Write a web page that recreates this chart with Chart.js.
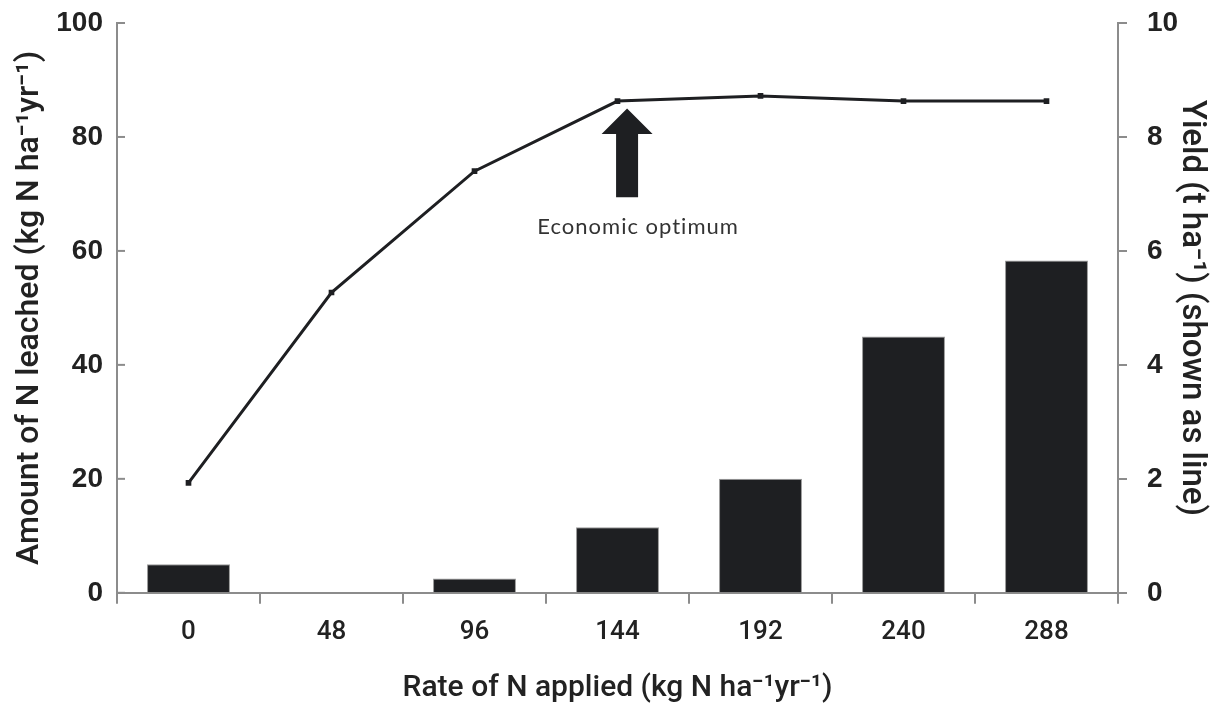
<!DOCTYPE html>
<html>
<head>
<meta charset="utf-8">
<script src="https://cdn.jsdelivr.net/npm/chart.js"></script>
<style>
  html, body { margin: 0; padding: 0; background: #fff; }
  #wrap { width: 1214px; height: 705px; }
</style>
</head>
<body>
<div id="wrap"><canvas id="chart"></canvas></div>
<script>
// Rate of N applied (kg N/ha/yr)
const rates = ['0', '48', '96', '144', '192', '240', '288']
// N leached (kg N/ha/yr), bars, left axis
const leached = [5, 0, 2.5, 11.5, 20, 45, 58.3]
// Yield (t/ha), line, right axis
const yieldT = [1.93, 5.27, 7.4, 8.63, 8.72, 8.63, 8.63]

const axisColor = '#8c8c8c'
const ink = '#1e1f22'
const titleFont = { family: 'Roboto', size: 32, weight: 500, lineHeight: 1 }
const numFont = { family: 'Liberation Sans', size: 28, weight: 'bold' }

// fixed widths for the side axes, no extra top/bottom padding from tick labels
function fitSide(width) {
  return s => {
    s.width = width
    s.paddingTop = 0
    s.paddingBottom = 0
  }
}

// Inner tick marks on the left axis + the "Economic optimum" arrow
const extras = {
  id: 'extras',
  afterDatasetsDraw(chart) {
    const ctx = chart.ctx
    const x = chart.scales.x
    const y = chart.scales.y
    const y1 = chart.scales.y1

    ctx.save()
    ctx.strokeStyle = axisColor
    ctx.lineWidth = 2
    y.ticks.forEach(t => {
      const py = y.getPixelForValue(t.value)
      ctx.beginPath()
      ctx.moveTo(chart.chartArea.left, py)
      ctx.lineTo(chart.chartArea.left + 8, py)
      ctx.stroke()
    })

    // arrow under the 144 point
    const cw = x.getPixelForValue(1) - x.getPixelForValue(0)
    const cx = x.getPixelForValue(3) + cw * 0.067
    const tip = y1.getPixelForValue(8.5)
    const base = y1.getPixelForValue(8.05)
    const bottom = y1.getPixelForValue(6.94)
    ctx.fillStyle = ink
    ctx.beginPath()
    ctx.moveTo(cx, tip)
    ctx.lineTo(cx + 25.5, base)
    ctx.lineTo(cx + 11, base)
    ctx.lineTo(cx + 11, bottom)
    ctx.lineTo(cx - 11, bottom)
    ctx.lineTo(cx - 11, base)
    ctx.lineTo(cx - 25.5, base)
    ctx.closePath()
    ctx.fill()

    ctx.fillStyle = '#333'
    ctx.font = '22px Lato'
    ctx.letterSpacing = '1px'
    ctx.textAlign = 'center'
    ctx.textBaseline = 'middle'
    ctx.fillText('Economic optimum', cx + 11, y1.getPixelForValue(6.42))
    ctx.restore()
  }
}

new Chart(document.getElementById('chart'), {
  type: 'bar',
  data: {
    labels: rates,
    datasets: [
      {
        type: 'line',
        label: 'Yield',
        data: yieldT,
        yAxisID: 'y1',
        borderColor: ink,
        borderWidth: 3,
        pointStyle: 'rect',
        pointRadius: 4,
        pointBackgroundColor: ink,
        pointBorderWidth: 0,
        tension: 0,
        order: 0
      },
      {
        label: 'N leached',
        data: leached,
        yAxisID: 'y',
        backgroundColor: ink,
        borderColor: '#9a9a9a',
        borderWidth: 1,
        categoryPercentage: 1,
        barPercentage: 0.58,
        order: 1
      }
    ]
  },
  options: {
    responsive: true,
    maintainAspectRatio: false,
    animation: false,
    layout: { padding: { top: 23, right: 6, bottom: 2, left: 14 } },
    plugins: {
      legend: { display: false },
      tooltip: { enabled: false }
    },
    scales: {
      x: {
        grid: { drawOnChartArea: false, offset: true, color: axisColor, lineWidth: 2, tickLength: 11 },
        border: { color: axisColor, width: 2 },
        ticks: { color: '#222', font: { family: 'Roboto', size: 26, weight: 500 }, padding: 13 },
        title: {
          display: true,
          text: 'Rate of N applied (kg N ha\u207B\u00B9yr\u207B\u00B9)',
          color: '#222',
          font: { family: 'Roboto', size: 30, weight: 500, lineHeight: 1 },
          padding: { top: 12, bottom: 0 }
        }
      },
      y: {
        position: 'left',
        min: 0,
        max: 100,
        afterFit: fitSide(103),
        ticks: { stepSize: 20, color: '#222', font: numFont, padding: 14 },
        grid: { drawOnChartArea: false, drawTicks: false },
        border: { color: axisColor, width: 2 },
        title: {
          display: true,
          text: 'Amount of N leached (kg N ha\u207B\u00B9yr\u207B\u00B9)',
          color: '#222',
          font: titleFont,
          padding: { top: 0, bottom: 0 }
        }
      },
      y1: {
        position: 'right',
        min: 0,
        max: 10,
        afterFit: fitSide(90),
        ticks: { stepSize: 2, color: '#222', font: numFont, padding: 20 },
        grid: { drawOnChartArea: false, color: axisColor, lineWidth: 2, tickLength: 9 },
        border: { color: axisColor, width: 2 },
        title: {
          display: true,
          text: 'Yield (t ha\u207B\u00B9) (shown as line)',
          color: '#222',
          font: { family: 'Roboto', size: 33, weight: 500, lineHeight: 1 },
          padding: { top: 0, bottom: 0 }
        }
      }
    }
  },
  plugins: [extras]
})
</script>
</body>
</html>
